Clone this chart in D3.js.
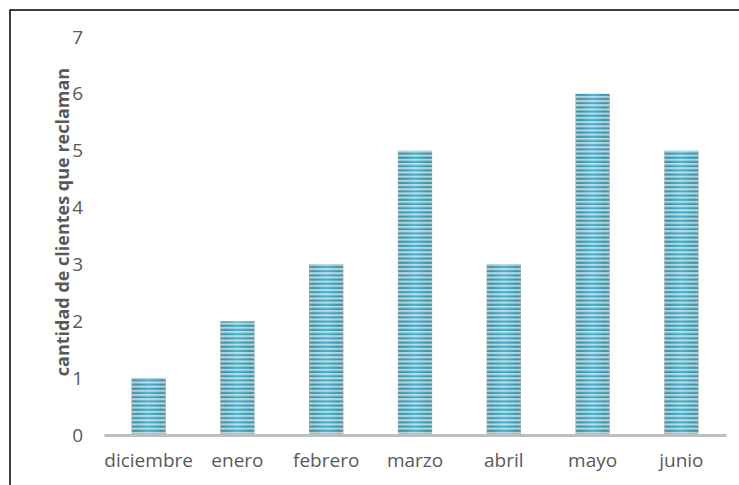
<!DOCTYPE html>
<html>
<head>
<meta charset="utf-8">
<script src="https://cdn.jsdelivr.net/npm/d3@7"></script>
<style>
  body { margin: 0; background: #fff; }
  svg text { font-family: "Open Sans", "Noto Sans", sans-serif; }
</style>
</head>
<body>
<div id="chart"></div>
<script>
// categories and values
const months = ["diciembre", "enero", "febrero", "marzo", "abril", "mayo", "junio"];
const clientes = [1, 2, 3, 5, 3, 6, 5];
const yTicks = [0, 1, 2, 3, 4, 5, 6, 7];
const yTitle = "cantidad de clientes que reclaman";

const W = 739, H = 485;
const margin = { top: 37, right: 13, bottom: 50, left: 104 };
const width = W - margin.left - margin.right;
const height = H - margin.top - margin.bottom;

const svg = d3.select("#chart")
  .append("svg")
  .attr("width", W)
  .attr("height", H);

// outer frame (cut off at right and bottom)
svg.append("rect")
  .attr("x", 10).attr("y", 10)
  .attr("width", 900).attr("height", 900)
  .attr("fill", "none")
  .attr("stroke", "#000")
  .attr("stroke-width", 1.5);

const defs = svg.append("defs");

// horizontal shading of the bar
const grad = defs.append("linearGradient")
  .attr("id", "barGrad")
  .attr("x1", "0").attr("x2", "1").attr("y1", "0").attr("y2", "0");
grad.append("stop").attr("offset", "0%").attr("stop-color", "#5c8f9c");
grad.append("stop").attr("offset", "12%").attr("stop-color", "#3d93a8");
grad.append("stop").attr("offset", "50%").attr("stop-color", "#48b0cb");
grad.append("stop").attr("offset", "88%").attr("stop-color", "#3d93a8");
grad.append("stop").attr("offset", "100%").attr("stop-color", "#5c8f9c");

// light stripes overlay
const pat = defs.append("pattern")
  .attr("id", "stripes")
  .attr("patternUnits", "userSpaceOnUse")
  .attr("width", 8).attr("height", 4.2);
pat.append("rect")
  .attr("x", 0).attr("y", 0)
  .attr("width", 8).attr("height", 2.1)
  .attr("fill", "#fff")
  .attr("fill-opacity", 0.6);

const g = svg.append("g")
  .attr("transform", "translate(" + margin.left + "," + margin.top + ")");

const x = d3.scaleBand()
  .domain(months)
  .range([0, width])
  .paddingInner(0.615)
  .paddingOuter(0.31);

const y = d3.scaleLinear()
  .domain([0, 7])
  .range([height, 0]);

// bars
const bars = g.selectAll("g.bar")
  .data(clientes)
  .enter().append("g")
  .attr("class", "bar");

bars.append("rect")
  .attr("x", (d, i) => x(months[i]))
  .attr("y", d => y(d))
  .attr("width", x.bandwidth())
  .attr("height", d => y(0) - y(d))
  .attr("fill", "url(#barGrad)");

bars.append("rect")
  .attr("x", (d, i) => x(months[i]))
  .attr("y", d => y(d))
  .attr("width", x.bandwidth())
  .attr("height", d => y(0) - y(d))
  .attr("fill", "url(#stripes)");

// x axis line
const xAxis = g.append("g")
  .attr("transform", "translate(0," + y(0) + ")")
  .call(d3.axisBottom(x).tickSize(0).tickPadding(19));
xAxis.select(".domain")
  .attr("stroke", "#bfbfbf")
  .attr("stroke-width", 3);
xAxis.selectAll("text")
  .attr("fill", "#595959")
  .style("font-size", "19px");

// y axis labels only
const yAxis = g.append("g")
  .call(d3.axisLeft(y).tickValues(yTicks).tickFormat(d3.format("d")).tickSize(0).tickPadding(21));
yAxis.select(".domain").remove();
yAxis.selectAll("text")
  .attr("fill", "#595959")
  .style("font-size", "19px");

// y axis title
svg.append("text")
  .attr("transform", "translate(62,222) rotate(-90)")
  .attr("text-anchor", "middle")
  .attr("dominant-baseline", "central")
  .attr("fill", "#595959")
  .style("font-size", "18px")
  .style("font-weight", "bold")
  .text(yTitle);
</script>
</body>
</html>
